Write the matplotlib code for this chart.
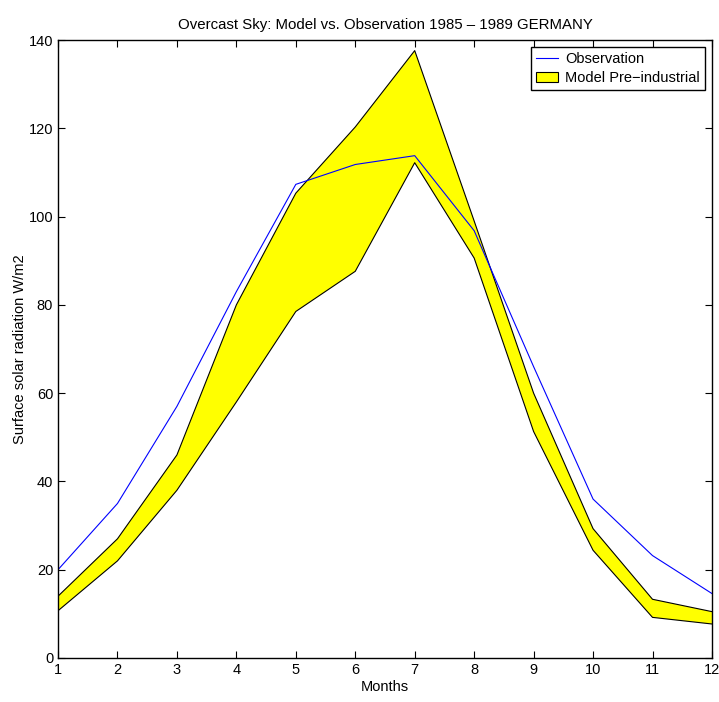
import matplotlib
matplotlib.use("Agg")
import matplotlib.pyplot as plt
from matplotlib.lines import Line2D
from matplotlib.patches import Patch

plt.rcParams['font.family'] = ['Liberation Sans', 'DejaVu Sans']

months = [1, 2, 3, 4, 5, 6, 7, 8, 9, 10, 11, 12]
observation = [20, 35, 57, 83, 107.3, 111.8, 113.8, 96.8, 66, 36, 23.2, 14.6]
model_upper = [14, 27, 46, 80, 105.3, 120.3, 137.6, 99, 60, 29.3, 13.3, 10.5]
model_lower = [10.7, 22, 38, 58, 78.5, 87.6, 112.2, 90.6, 51.3, 24.4, 9.2, 7.7]

fig = plt.figure(figsize=(7.19, 7.02), dpi=100)
ax = fig.add_axes([0.0807, 0.0627, 0.9095, 0.8803])

ax.fill_between(months, model_lower, model_upper, facecolor='#ffff00', edgecolor='none')
ax.plot(months, model_upper, color='black', lw=0.8)
ax.plot(months, model_lower, color='black', lw=0.8)
ax.plot(months, observation, color='blue', lw=0.8)

ax.set_xlim(1, 12)
ax.set_ylim(0, 140)
ax.set_xticks(months)
ax.set_yticks(range(0, 141, 20))
ax.tick_params(direction='in', top=True, right=True, length=5, labelsize=10.5, width=0.8)
for s in ax.spines.values():
    s.set_linewidth(1.0)

ax.set_title('Overcast Sky: Model vs. Observation 1985 \u2013 1989 GERMANY', fontsize=10.8, pad=8)
ax.set_xlabel('Months', fontsize=10.5, labelpad=2)
ax.set_ylabel('Surface solar radiation W/m2', fontsize=10.5, labelpad=1)

handles = [Line2D([0], [0], color='blue', lw=0.8),
           Patch(facecolor='#ffff00', edgecolor='black', linewidth=0.8)]
leg = ax.legend(handles, ['Observation', 'Model Pre\u2212industrial'], loc='upper right',
                fontsize=10.5, fancybox=False, framealpha=1, edgecolor='black',
                borderaxespad=0.5, handlelength=1.5, handletextpad=0.5,
                borderpad=0.35, labelspacing=0.3)
leg.get_frame().set_linewidth(1.0)

fig.savefig('out.png', dpi=100)
